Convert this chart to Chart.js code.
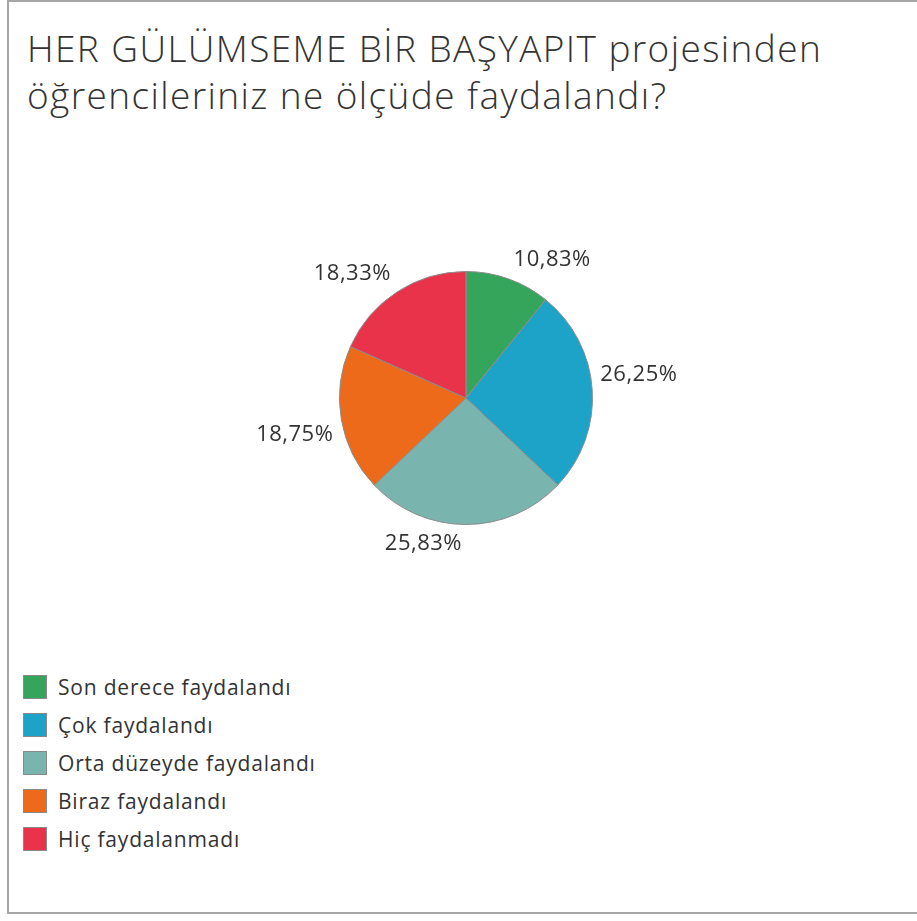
<!DOCTYPE html>
<html>
<head>
<meta charset="utf-8">
<script src="https://cdn.jsdelivr.net/npm/chart.js@4"></script>
<style>
  html, body { margin: 0; padding: 0; background: #fff; }
  body { width: 917px; height: 921px; position: relative; overflow: hidden; font-family: "Open Sans", Lato, sans-serif; color: #333; }
  .frame { position: absolute; left: 7px; top: 0; width: 930px; height: 914px; border: 2px solid #a5a5a5; box-sizing: border-box; }
  .title { position: absolute; left: 27px; top: 24px; font-size: 37px; font-weight: 300; line-height: 47px; letter-spacing: 1.4px; color: #333; white-space: nowrap; }
  .pie-wrap { position: absolute; left: 166px; top: 198px; width: 600px; height: 400px; }
  .legend { position: absolute; left: 23px; top: 675px; }
  .legend-item { height: 38px; display: flex; align-items: flex-start; font-size: 21px; letter-spacing: 0.8px; }
  .legend-item .box { width: 22px; height: 22px; border: 1px solid #8a8a8a; margin-right: 11px; }
  .legend-item span { line-height: 24px; }
</style>
</head>
<body>
<div class="frame"></div>
<div class="title">HER GÜLÜMSEME BİR BAŞYAPIT projesinden<br>öğrencileriniz ne ölçüde faydalandı?</div>
<div class="pie-wrap"><canvas id="pie" width="600" height="400"></canvas></div>
<div class="legend" id="legend"></div>
<script>
const categories = ["Son derece faydalandı", "Çok faydalandı", "Orta düzeyde faydalandı", "Biraz faydalandı", "Hiç faydalanmadı"];
const shares = [10.83, 26.25, 25.83, 18.75, 18.33];
const colors = ["#35a55b", "#1ca3c7", "#79b5ae", "#ee6a1b", "#e8334a"];

function pct(v) {
  return v.toFixed(2).replace(".", ",") + "%";
}

// percentage label hung off each slice's outer midpoint by its nearest corner
const outsideLabels = {
  id: "outsideLabels",
  afterDatasetsDraw(chart) {
    const { ctx } = chart;
    const meta = chart.getDatasetMeta(0);
    ctx.save();
    ctx.font = "22px 'Open Sans', Lato, sans-serif";
    ctx.letterSpacing = "0.5px";
    ctx.fillStyle = "#333";
    meta.data.forEach((arc, i) => {
      const mid = (arc.startAngle + arc.endAngle) / 2;
      const r = arc.outerRadius + 4;
      const c = Math.cos(mid), s = Math.sin(mid);
      const x = arc.x + c * r;
      const y = arc.y + s * r;
      ctx.textAlign = c > 0.05 ? "left" : "right";
      ctx.textBaseline = s > 0 ? "top" : "bottom";
      ctx.fillText(pct(shares[i]), x + (c > 0.05 ? 4 : -4), y + (s > 0 ? 4 : -4));
    });
    ctx.restore();
  },
};

new Chart(document.getElementById("pie"), {
  type: "pie",
  data: {
    labels: categories,
    datasets: [{
      data: shares,
      backgroundColor: colors,
      borderColor: "#8c8c8c",
      borderWidth: 1,
    }],
  },
  options: {
    responsive: false,
    animation: false,
    layout: { padding: { left: 173, right: 173, top: 73, bottom: 73 } },
    plugins: { legend: { display: false }, tooltip: { enabled: false } },
  },
  plugins: [outsideLabels],
});

const legendEl = document.getElementById("legend");
categories.forEach((name, i) => {
  const row = document.createElement("div");
  row.className = "legend-item";
  row.innerHTML = `<div class="box" style="background:${colors[i]}"></div><span></span>`;
  row.querySelector("span").textContent = name;
  legendEl.appendChild(row);
});
</script>
</body>
</html>
